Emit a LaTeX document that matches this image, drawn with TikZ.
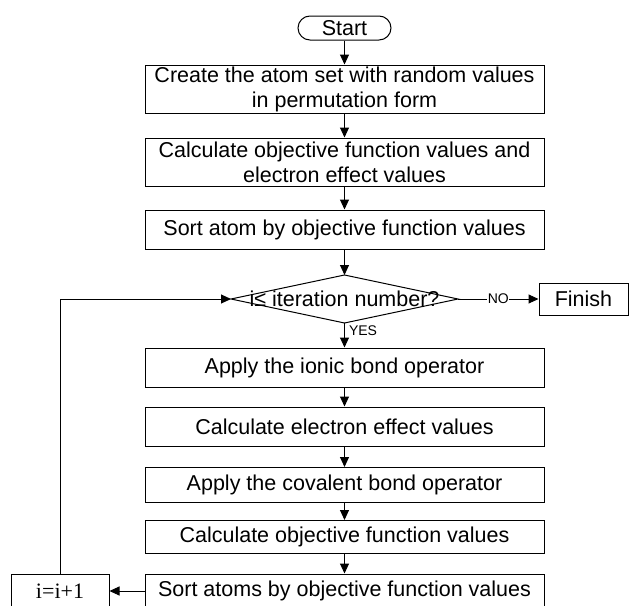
\documentclass[tikz,border=0pt]{standalone}
\usepackage{fontspec}
\setmainfont{Liberation Sans}
\newfontfamily\serifname{Liberation Serif}
\usetikzlibrary{arrows.meta}
\tikzset{
  bigfont/.style={font=\fontsize{21.5}{25}\selectfont},
  stepbox/.style={draw, line width=1pt, minimum width=399pt, inner sep=0pt, align=center, bigfont},
  arr/.style={line width=1pt, -{Triangle[length=10pt,width=9pt]}},
  plain/.style={line width=1pt},
  small/.style={font=\fontsize{14}{16}\selectfont, inner sep=1pt}
}
\begin{document}
\begin{tikzpicture}[x=1pt,y=-1pt]
\useasboundingbox (0,0) rectangle (631,605);
\node[draw, line width=1pt, rounded corners=12pt, minimum width=93pt, minimum height=24pt, inner sep=0pt, bigfont] (start) at (344.5,28) {Start};
\node[stepbox, minimum height=48pt] (b1) at (344.5,89) {Create the atom set with random values\\in permutation form};
\node[stepbox, minimum height=48pt] (b2) at (344.5,162) {Calculate objective function values and\\electron effect values};
\node[stepbox, minimum height=39pt] (b3) at (344.5,229.5) {Sort atom by objective function values};
% decision
\coordinate (dT) at (344.5,275);
\coordinate (dB) at (344.5,323);
\coordinate (dL) at (231,299);
\coordinate (dR) at (458,299);
\draw[plain] (dT) -- (dR) -- (dB) -- (dL) -- cycle;
\node[bigfont, inner sep=0pt] (dec) at (344.5,299) {i≤ iteration number?};
\node[draw, line width=1pt, minimum width=89pt, minimum height=32pt, inner sep=0pt, bigfont] (fin) at (583.5,299) {Finish};
\node[stepbox, minimum height=39pt] (b4) at (344.5,367.5) {Apply the ionic bond operator};
\node[stepbox, minimum height=39pt] (b5) at (344.5,426.5) {Calculate electron effect values};
\node[stepbox, minimum height=35pt] (b6) at (344.5,485) {Apply the covalent bond operator};
\node[stepbox, minimum height=33pt] (b7) at (344.5,537) {Calculate objective function values};
\node[stepbox, minimum height=34pt] (b8) at (344.5,591) {Sort atoms by objective function values};
\node[draw, line width=1pt, minimum width=98pt, minimum height=34pt, inner sep=0pt, font=\serifname\fontsize{22}{26}\selectfont] (inc) at (60,591) {i=i+1};
% connectors
\draw[arr] (start) -- (b1);
\draw[arr] (b1) -- (b2);
\draw[arr] (b2) -- (b3);
\draw[arr] (b3) -- (dT);
\draw[arr] (dB) -- node[small, anchor=west, pos=0.3, xshift=3pt] {YES} (b4);
\draw[arr] (dR) -- node[small, fill=white, inner sep=0.5pt] (no) {NO} (fin);
\draw[arr] (b4) -- (b5);
\draw[arr] (b5) -- (b6);
\draw[arr] (b6) -- (b7);
\draw[arr] (b7) -- (b8);
\draw[arr] (b8) -- (inc);
\draw[arr] (inc.north) |- (dL);
\end{tikzpicture}
\end{document}
